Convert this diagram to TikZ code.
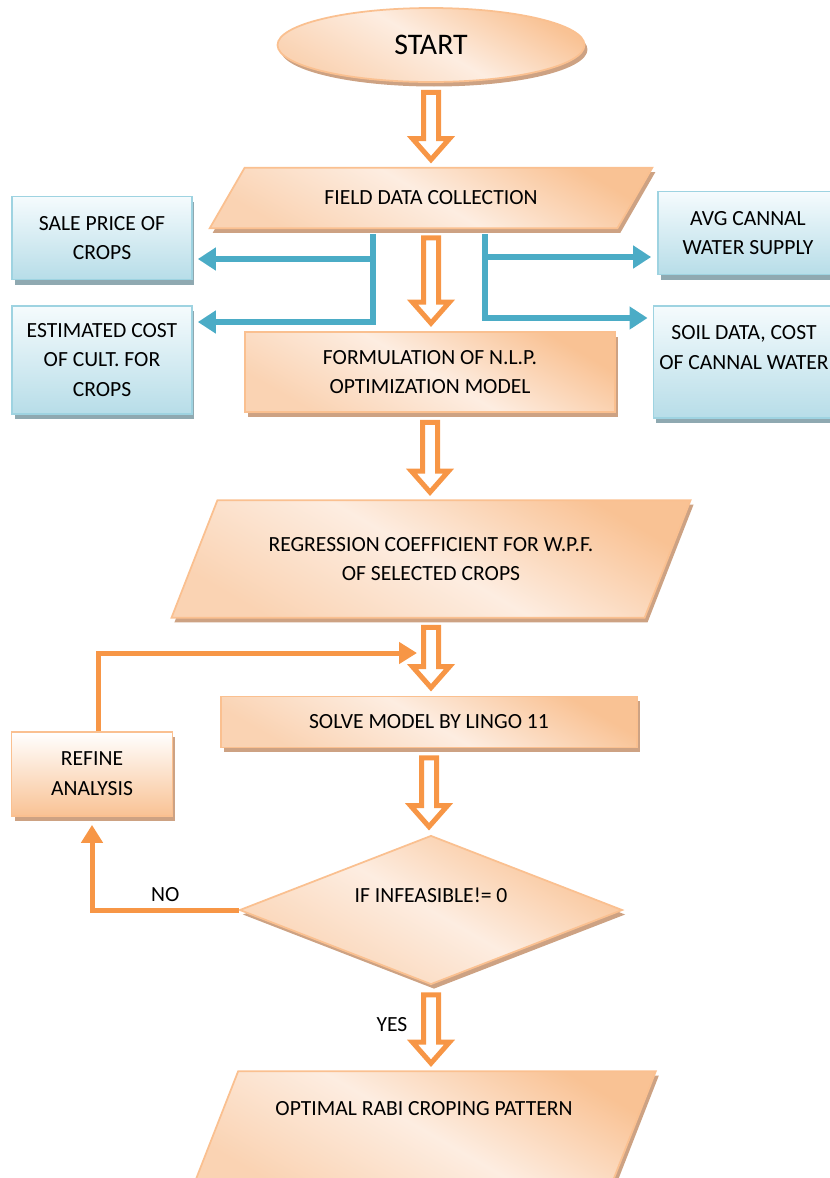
\documentclass[tikz,border=0pt]{standalone}
\usepackage{fontspec}
\setmainfont{Carlito}
\usetikzlibrary{shapes.geometric, arrows.meta, shadows, calc, backgrounds}

\definecolor{flowline}{HTML}{F79646}
\definecolor{flowedge}{HTML}{FAC090}
\definecolor{peachdark}{HTML}{F9C294}
\definecolor{peachmid}{HTML}{FAD3B3}
\definecolor{peachlight}{HTML}{FDEDE1}
\definecolor{peachshadow}{HTML}{CDA283}
\definecolor{blueline}{HTML}{4BACC6}
\definecolor{blueedge}{HTML}{9ED3E1}
\definecolor{bluelight}{HTML}{F5FBFD}
\definecolor{bluedark}{HTML}{B7DDE8}
\definecolor{blueshadow}{HTML}{8FA9B1}

\begin{document}
\begin{tikzpicture}[
    x=0.02cm, y=-0.02cm,
    every node/.style={font=\fontsize{12.3}{17}\selectfont, align=center},
    orangeshadow/.style={drop shadow={shadow xshift=0.06cm, shadow yshift=-0.09cm, fill=peachshadow, opacity=1}},
    flowfill/.style={draw=flowedge, line width=1pt, top color=peachdark, bottom color=peachmid,
        middle color=peachlight, shading angle=-30, orangeshadow},
    startnode/.style={flowfill, ellipse, minimum width=6.14cm, minimum height=1.48cm,
        font=\fontsize{17}{20}\selectfont},
    boxnode/.style={flowfill, rectangle},
    datanode/.style={rectangle, inner sep=0pt},
    decisionnode/.style={flowfill, diamond, shape aspect=2.57, inner sep=1pt},
    sidenode/.style={rectangle, draw=blueedge, line width=1pt, top color=bluelight, bottom color=bluedark,
        minimum width=3.6cm, drop shadow={shadow xshift=0.05cm, shadow yshift=-0.1cm, fill=blueshadow, opacity=1}},
    hollowarrow/.style={draw=flowline, line width=0.1cm, fill=white, line join=miter,
        to path={let \p1=(\tikztostart), \p2=(\tikztotarget) in
            ({\x1-0.15cm},{\y1-0.19cm}) -- ({\x1+0.15cm},{\y1-0.19cm}) -- ({\x1+0.15cm},{\y2+0.58cm})
            -- ({\x1+0.37cm},{\y2+0.58cm}) -- (\x1,{\y2+0.16cm}) -- ({\x1-0.37cm},{\y2+0.58cm})
            -- ({\x1-0.15cm},{\y2+0.58cm}) -- cycle}},
    sidearrow/.style={draw=blueline, line width=0.12cm, -{Triangle[length=0.36cm, width=0.44cm]}},
    looparrow/.style={draw=flowline, line width=0.1cm, -{Triangle[length=0.36cm, width=0.42cm]}}
]
\useasboundingbox (0,0) rectangle (830,1178);

% main flow
\node[startnode] (start) at (431,45) {START};
\node[datanode, minimum width=8.14cm, minimum height=1.2cm] (field) at (431,198) {FIELD DATA COLLECTION};
\node[boxnode, minimum width=7.4cm, minimum height=1.6cm] (nlp) at (430,372)
    {FORMULATION OF N.L.P.\\OPTIMIZATION MODEL};
\node[datanode, minimum width=9.45cm, minimum height=2.34cm] (wpf) at (431,559)
    {REGRESSION COEFFICIENT FOR W.P.F.\\OF SELECTED CROPS};
\node[boxnode, minimum width=8.32cm, minimum height=1.02cm] (lingo) at (429,722) {SOLVE MODEL BY LINGO 11};
\node[decisionnode, minimum width=7.66cm, minimum height=2.98cm] (cond) at (431,910)
    {IF INFEASIBLE!= 0\\ \mbox{}};
\node[datanode, minimum width=8.34cm, minimum height=2.34cm] (pattern) at (424,1130)
    {OPTIMAL RABI CROPING PATTERN\\[0.25cm]\mbox{}};

% slanted data boxes
\begin{scope}[on background layer]
\path[flowfill] ([xshift=0.35cm]field.north west) -- ([xshift=0.35cm]field.north east)
    -- ([xshift=-0.35cm]field.south east) -- ([xshift=-0.35cm]field.south west) -- cycle;
\path[flowfill] ([xshift=0.46cm]wpf.north west) -- ([xshift=0.46cm]wpf.north east)
    -- ([xshift=-0.46cm]wpf.south east) -- ([xshift=-0.46cm]wpf.south west) -- cycle;
\path[flowfill] ([xshift=0.46cm]pattern.north west) -- ([xshift=0.46cm]pattern.north east)
    -- ([xshift=-0.46cm]pattern.south east) -- ([xshift=-0.46cm]pattern.south west) -- cycle;
\end{scope}

% side loop
\node[boxnode, top color=white, bottom color=peachdark, minimum width=3.22cm, minimum height=1.68cm]
    (refine) at (92,774) {REFINE\\ANALYSIS};

% input data
\node[sidenode, minimum height=1.66cm] (sale) at (102,238) {SALE PRICE OF\\CROPS};
\node[sidenode, minimum height=2.16cm] (cost) at (102,360) {ESTIMATED COST\\OF CULT. FOR\\CROPS};
\node[sidenode, minimum height=1.66cm] (canal) at (748,233) {AVG CANNAL\\WATER SUPPLY};
\node[sidenode, minimum height=2.24cm] (soil) at (744,362) {SOIL DATA, COST\\OF CANNAL WATER\\ \mbox{}};

% hollow arrows
\draw[hollowarrow] (start.south) to (field.north);
\draw[hollowarrow] (field.south) to (nlp.north);
\draw[hollowarrow] (nlp.south) to (wpf.north);
\draw[hollowarrow] (wpf.south) to (lingo.north);
\draw[hollowarrow] (lingo.south) to (cond.north);
\draw[hollowarrow] (cond.south) to (pattern.north);

% data links
\coordinate (lsplit) at (373,234);
\coordinate (lmid) at (373,259);
\coordinate (lturn) at (373,322);
\coordinate (rsplit) at (485,234);
\coordinate (rmid) at (485,257);
\coordinate (rturn) at (485,318);
\draw[sidearrow, shorten >=0.1cm] (lsplit) |- (lturn -| cost.east);
\draw[sidearrow, shorten >=0.1cm] (lmid) -- (lmid -| sale.east);
\draw[sidearrow, shorten >=0.1cm] (rsplit) |- (rturn -| soil.west);
\draw[sidearrow, shorten >=0.12cm] (rmid) -- (rmid -| canal.west);

% feedback
\coordinate (fbend) at (417,653);
\draw[looparrow] ([xshift=0.14cm]refine.north) |- (fbend);
\draw[looparrow] (cond.west) -| node[pos=0.25, above] (no) {NO} ([yshift=-0.16cm]refine.south);
\node (yes) at (392,1025) {YES};
\end{tikzpicture}
\end{document}
